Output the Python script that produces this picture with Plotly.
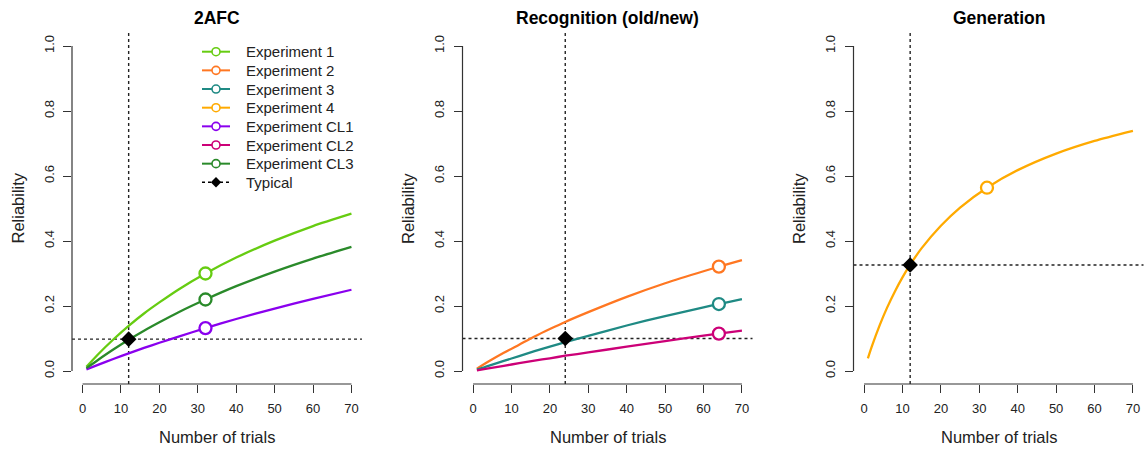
import plotly.graph_objects as go

W, H = 1147, 452

# ---------------- data ----------------
titles = ["2AFC", "Recognition (old/new)", "Generation"]
x_label = "Number of trials"
y_label = "Reliability"
x_ticks = [0, 10, 20, 30, 40, 50, 60, 70]
y_ticks = [0.0, 0.2, 0.4, 0.6, 0.8, 1.0]
y_ticklabels = ["0.0", "0.2", "0.4", "0.6", "0.8", "1.0"]

# panel 1 (2AFC)
n_p1 = [1, 4, 8, 12, 16, 20, 25, 32, 40, 50, 60, 70]
exp1 = [0.013, 0.051, 0.097, 0.139, 0.177, 0.211, 0.251, 0.300, 0.349, 0.401, 0.446, 0.484]
cl1 = [0.005, 0.019, 0.037, 0.054, 0.071, 0.087, 0.106, 0.132, 0.160, 0.192, 0.222, 0.250]
cl3 = [0.009, 0.034, 0.066, 0.096, 0.124, 0.150, 0.181, 0.220, 0.261, 0.306, 0.346, 0.382]
obs_n_p1 = 32
exp1_obs, cl1_obs, cl3_obs = 0.300, 0.132, 0.220
typical_n_p1, typical_r_p1 = 12, 0.098

# panel 2 (Recognition)
n_p2 = [1, 4, 8, 12, 16, 20, 24, 30, 40, 50, 60, 64, 70]
exp2 = [0.007, 0.029, 0.056, 0.081, 0.106, 0.129, 0.151, 0.181, 0.228, 0.270, 0.307, 0.321, 0.341]
exp3 = [0.004, 0.016, 0.031, 0.046, 0.061, 0.075, 0.089, 0.108, 0.140, 0.169, 0.196, 0.206, 0.221]
cl2 = [0.002, 0.008, 0.016, 0.024, 0.032, 0.039, 0.047, 0.057, 0.075, 0.092, 0.109, 0.115, 0.124]
obs_n_p2 = 64
exp2_obs, exp3_obs, cl2_obs = 0.321, 0.206, 0.115
typical_n_p2, typical_r_p2 = 24, 0.100

# panel 3 (Generation)
n_p3 = [1, 2, 4, 6, 8, 10, 12, 15, 20, 25, 32, 40, 50, 60, 70]
exp4 = [0.039, 0.075, 0.139, 0.195, 0.244, 0.288, 0.327, 0.378, 0.447, 0.503, 0.564, 0.618, 0.669, 0.708, 0.739]
obs_n_p3 = 32
exp4_obs = 0.564
typical_n_p3, typical_r_p3 = 12, 0.326

legend_names = ["Experiment 1", "Experiment 2", "Experiment 3", "Experiment 4",
                "Experiment CL1", "Experiment CL2", "Experiment CL3", "Typical"]

# ---------------- style ----------------
col = {
    "Experiment 1": "#66CC11",
    "Experiment 2": "#FF7722",
    "Experiment 3": "#1F8A84",
    "Experiment 4": "#FFAA00",
    "Experiment CL1": "#8A00EE",
    "Experiment CL2": "#CC0077",
    "Experiment CL3": "#2A8A2A",
    "Typical": "black",
}
FONT = "Liberation Sans, Arial, Helvetica, sans-serif"
AX = "#333333"

# panel geometry (pixels)
lefts = [72, 462.5, 853.5]
pw = 290
top_px, bot_px = 33, 384
xr = [-2.75, 72.75]
yr = [-0.04, 1.04]

fig = go.Figure()

def axes_of(ax):
    return ("x", "y") if ax == 1 else (f"x{ax}", f"y{ax}")

def add_curve(name, xs, ys, ox, oy, ax):
    c = col[name]
    xa, ya = axes_of(ax)
    fig.add_trace(go.Scatter(x=xs, y=ys, mode="lines", name=name,
                             line=dict(color=c, width=2.3, shape="spline", smoothing=0.6),
                             xaxis=xa, yaxis=ya, showlegend=False, hoverinfo="skip"))
    fig.add_trace(go.Scatter(x=[ox], y=[oy], mode="markers", name=name,
                             marker=dict(symbol="circle", size=12, color="white", line=dict(color=c, width=2.3)),
                             xaxis=xa, yaxis=ya, showlegend=False))

def add_typical(nx, ry, ax):
    xa, ya = axes_of(ax)
    fig.add_trace(go.Scatter(x=[nx], y=[ry], mode="markers", name="Typical",
                             marker=dict(symbol="diamond", size=12, color="black", line=dict(width=0)),
                             xaxis=xa, yaxis=ya, showlegend=False))

# ---------------- manual R-style legend (pixel overlay axis) ----------------
leg_x0, leg_x1, leg_text_x = 202, 230, 244
leg_y0, leg_dy = 51.7, 18.66
annotations = []
for j, nm in enumerate(legend_names):
    yy = leg_y0 + j * leg_dy
    typical = nm == "Typical"
    fig.add_trace(go.Scatter(
        x=[leg_x0, (leg_x0 + leg_x1) / 2, leg_x1], y=[yy, yy, yy], mode="lines",
        line=dict(color=col[nm], width=1.5 if typical else 2, dash="dot" if typical else "solid"),
        xaxis="x4", yaxis="y4", showlegend=False, hoverinfo="skip", cliponaxis=False))
    fig.add_trace(go.Scatter(
        x=[(leg_x0 + leg_x1) / 2], y=[yy], mode="markers",
        marker=dict(symbol="diamond" if typical else "circle", size=8,
                    color="black" if typical else "white",
                    line=dict(color=col[nm], width=0 if typical else 1.6)),
        xaxis="x4", yaxis="y4", showlegend=False, hoverinfo="skip", cliponaxis=False))
    annotations.append(dict(text=nm, x=leg_text_x / W, y=1 - yy / H, xref="paper", yref="paper",
                            xanchor="left", yanchor="middle", showarrow=False,
                            font=dict(size=15, family=FONT, color="#222")))

add_curve("Experiment 1", n_p1, exp1, obs_n_p1, exp1_obs, 1)
add_curve("Experiment CL1", n_p1, cl1, obs_n_p1, cl1_obs, 1)
add_curve("Experiment CL3", n_p1, cl3, obs_n_p1, cl3_obs, 1)
add_typical(typical_n_p1, typical_r_p1, 1)

add_curve("Experiment 2", n_p2, exp2, obs_n_p2, exp2_obs, 2)
add_curve("Experiment 3", n_p2, exp3, obs_n_p2, exp3_obs, 2)
add_curve("Experiment CL2", n_p2, cl2, obs_n_p2, cl2_obs, 2)
add_typical(typical_n_p2, typical_r_p2, 2)

add_curve("Experiment 4", n_p3, exp4, obs_n_p3, exp4_obs, 3)
add_typical(typical_n_p3, typical_r_p3, 3)

layout = dict(
    width=W, height=H, margin=dict(l=0, r=0, t=0, b=0),
    paper_bgcolor="white", plot_bgcolor="rgba(0,0,0,0)",
    font=dict(family=FONT, color="black"),
    showlegend=False,
    xaxis4=dict(domain=[0, 1], range=[0, W], visible=False, fixedrange=True, anchor="y4"),
    yaxis4=dict(domain=[0, 1], range=[H, 0], visible=False, fixedrange=True, anchor="x4"),
)
shapes = []
typ = [(typical_n_p1, typical_r_p1), (typical_n_p2, typical_r_p2), (typical_n_p3, typical_r_p3)]
for i in range(3):
    k = "" if i == 0 else str(i + 1)
    x0 = lefts[i] / W
    x1 = (lefts[i] + pw) / W
    layout[f"xaxis{k}"] = dict(domain=[x0, x1], range=xr, showgrid=False, zeroline=False, showline=False,
                              tickmode="array", tickvals=x_ticks, ticktext=[str(t) for t in x_ticks],
                              ticks="outside", ticklen=8, tickwidth=1, tickcolor=AX,
                              tickfont=dict(size=13, family=FONT, color="#222"), ticklabelstandoff=4,
                              anchor=f"y{k}", fixedrange=True)
    layout[f"yaxis{k}"] = dict(domain=[1 - bot_px / H, 1 - top_px / H], range=yr, showgrid=False, zeroline=False,
                              showline=False, tickmode="array", tickvals=y_ticks, ticktext=y_ticklabels,
                              ticks="outside", ticklen=8, tickwidth=1, tickcolor=AX, tickangle=-90,
                              tickfont=dict(size=13, family=FONT, color="#222"), ticklabelstandoff=4,
                              anchor=f"x{k}", fixedrange=True)
    xref = f"x{k}"
    yref = f"y{k}"
    shapes.append(dict(type="line", xref=xref, yref=f"{yref} domain", x0=x_ticks[0], x1=x_ticks[-1], y0=0, y1=0,
                       line=dict(color=AX, width=1.2)))
    shapes.append(dict(type="line", xref=f"{xref} domain", yref=yref, x0=0, x1=0, y0=y_ticks[0], y1=y_ticks[-1],
                       line=dict(color=AX, width=1.2)))
    tn, tr = typ[i]
    shapes.append(dict(type="line", xref=xref, yref=f"{yref} domain", x0=tn, x1=tn, y0=0, y1=1,
                       line=dict(color="#222", width=1.4, dash="dot"), layer="below"))
    shapes.append(dict(type="line", xref=f"{xref} domain", yref=yref, x0=0, x1=1, y0=tr, y1=tr,
                       line=dict(color="#222", width=1.4, dash="dot"), layer="below"))
    cx = (lefts[i] + pw / 2) / W
    annotations.append(dict(text=f"<b>{titles[i]}</b>", x=cx, y=1 - 18 / H, xref="paper", yref="paper",
                            xanchor="center", yanchor="middle", showarrow=False,
                            font=dict(size=17.5, family=FONT, color="black")))
    annotations.append(dict(text=x_label, x=cx, y=1 - 437 / H, xref="paper", yref="paper",
                            xanchor="center", yanchor="middle", showarrow=False,
                            font=dict(size=16.5, family=FONT, color="#222")))
    annotations.append(dict(text=y_label, x=(lefts[i] - 55) / W, y=1 - ((top_px + bot_px) / 2) / H,
                            xref="paper", yref="paper", xanchor="center", yanchor="middle", showarrow=False,
                            textangle=-90, font=dict(size=16.5, family=FONT, color="#222")))
layout["shapes"] = shapes
layout["annotations"] = annotations
fig.update_layout(**layout)

fig.write_html("out.html", config={"displayModeBar": False, "staticPlot": True},
               post_script="document.body.style.margin='0px';document.body.style.overflow='hidden';")
